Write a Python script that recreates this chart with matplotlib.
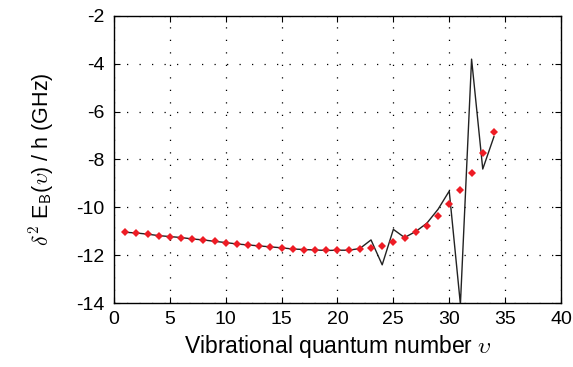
import matplotlib
matplotlib.use("Agg")
import matplotlib.pyplot as plt
import numpy as np

plt.rcParams['font.family'] = ['Liberation Sans', 'DejaVu Sans']
plt.rcParams['mathtext.fontset'] = 'cm'

v = list(range(1, 35))
markers = [-11.04, -11.07, -11.12, -11.18, -11.22, -11.26, -11.32, -11.36, -11.42, -11.47,
           -11.53, -11.57, -11.61, -11.65, -11.69, -11.74, -11.76, -11.78, -11.80, -11.79,
           -11.79, -11.75, -11.68, -11.61, -11.43, -11.26, -11.01, -10.76, -10.36, -9.86,
           -9.26, -8.55, -7.74, -6.85]
line = [-11.04, -11.07, -11.12, -11.18, -11.22, -11.26, -11.32, -11.36, -11.42, -11.47,
        -11.53, -11.57, -11.61, -11.65, -11.69, -11.74, -11.76, -11.78, -11.80, -11.79,
        -11.79, -11.72, -11.36, -12.40, -10.92, -11.26, -11.01, -10.66, -10.08, -9.32,
        -14.05, -3.81, -8.40, -7.05]
xticks = [0, 5, 10, 15, 20, 25, 30, 35, 40]
yticks = [-14, -12, -10, -8, -6, -4, -2]

fig = plt.figure(figsize=(5.73, 3.67), dpi=100)
ax = fig.add_axes([0.199, 0.174, 0.780, 0.783])
ax.plot(v, line, color='#222222', lw=1.0, zorder=2, clip_on=True)
ax.plot(v, markers, linestyle='none', marker='D', ms=4.5, color='#ee1c25',
        markeredgewidth=0, zorder=3)
ax.set_xlim(0, 40)
ax.set_ylim(-14, -2)
ax.set_xticks(xticks)
ax.set_yticks(yticks)
ax.set_xticklabels([str(t) for t in xticks])
ax.set_yticklabels([str(t) for t in yticks])
ax.grid(True, linestyle=(0, (1, 9)), color='black', lw=0.9)
ax.tick_params(direction='in', top=True, right=True, labelsize=14, length=4, width=0.8)
ax.tick_params(axis='x', pad=6)
ax.tick_params(axis='y', pad=7)
for s in ax.spines.values():
    s.set_linewidth(1.0)
ax.set_xlabel(r'Vibrational quantum number $\upsilon$', fontsize=16.5, labelpad=3)
ax.set_ylabel(r'$\delta^2$ E$_{\mathsf{B}}$($\upsilon$) / h (GHz)', fontsize=15.5, labelpad=14)
fig.savefig('out.png', dpi=100)
